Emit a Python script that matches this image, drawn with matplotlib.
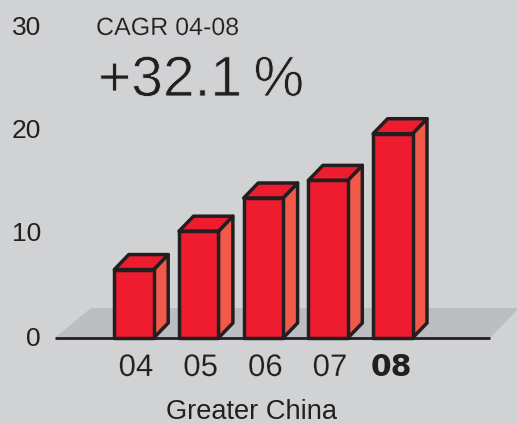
import matplotlib
matplotlib.use('Agg')
import matplotlib.pyplot as plt
from matplotlib.patches import Polygon
import matplotlib.patheffects as pe

years = ['04', '05', '06', '07', '08']
values = [6.6, 10.3, 13.5, 15.2, 19.7]
y_ticks = [0, 10, 20, 30]

BG = '#d1d2d4'; FLOOR = '#bcbdc0'; RED = '#ee1c2e'; SIDE = '#f15a4a'; INK = '#231f20'
plt.rcParams['font.family'] = ['Liberation Sans', 'DejaVu Sans']

W, H = 517, 424
fig = plt.figure(figsize=(W/100, H/100), dpi=100, facecolor=BG)
ax = fig.add_axes([0, 0, 1, 1], facecolor=BG)

X0, DX, Y0, DY = 134.0, 64.7, 338.0, 10.37
px = lambda p: (p - X0) / DX
py = lambda p: (Y0 - p) / DY
ax.set_xlim(px(0), px(W))
ax.set_ylim(py(H), py(0))
ax.axis('off')

ax.add_patch(Polygon([(px(55), 0), (px(91), py(308)), (px(517), py(308)), (px(517), py(310)), (px(490), 0)],
                     closed=True, fc=FLOOR, ec='none', zorder=1))
ax.plot([px(55), px(490)], [0, 0], color=INK, lw=2.0, solid_capstyle='butt', zorder=2)

hw = 19.7 / DX
dx = 14.5 / DX
dy = 15 / DY
for i, v in enumerate(values):
    kw = dict(closed=True, ec=INK, lw=2.5, joinstyle='round', zorder=3 + i)
    ax.add_patch(Polygon([(i+hw, 0), (i+hw+dx, dy), (i+hw+dx, v+dy), (i+hw, v)], fc=SIDE, **kw))
    ax.add_patch(Polygon([(i-hw, v), (i-hw+dx, v+dy), (i+hw+dx, v+dy), (i+hw, v)], fc=RED, **kw))
    ax.add_patch(Polygon([(i-hw, 0), (i-hw, v), (i+hw, v), (i+hw, 0)], fc=RED, **kw))

def thin(w):
    return [pe.Stroke(linewidth=w, foreground=BG)]

for i, y in enumerate(years):
    bold = i == 4
    t = ax.text(i + (-0.02 if bold else 0.03), py(376), y, ha='center', va='baseline', color=INK,
                fontsize=21.5 if bold else 22.5,
                family=['DejaVu Sans'] if bold else ['Liberation Sans'],
                fontweight='bold' if bold else 'normal')
    if not bold:
        t.set_path_effects(thin(0.15))

for t, yp in zip(y_ticks, [346, 241, 138, 35]):
    ax.text(px(41), py(yp), str(t), ha='right', va='baseline', color=INK, fontsize=19)

ax.text(px(96), py(35), 'CAGR 04-08', ha='left', va='baseline', color=INK, fontsize=18,
        path_effects=thin(0.15))
ax.text(px(98), py(96), '+32.1\u2009%', ha='left', va='baseline', color=INK, fontsize=41,
        path_effects=thin(0.6))
ax.text(px(252), py(412), 'Greater China', ha='center', va='center', color=INK, fontsize=19.6)

fig.savefig('out.png', dpi=100, facecolor=BG)
